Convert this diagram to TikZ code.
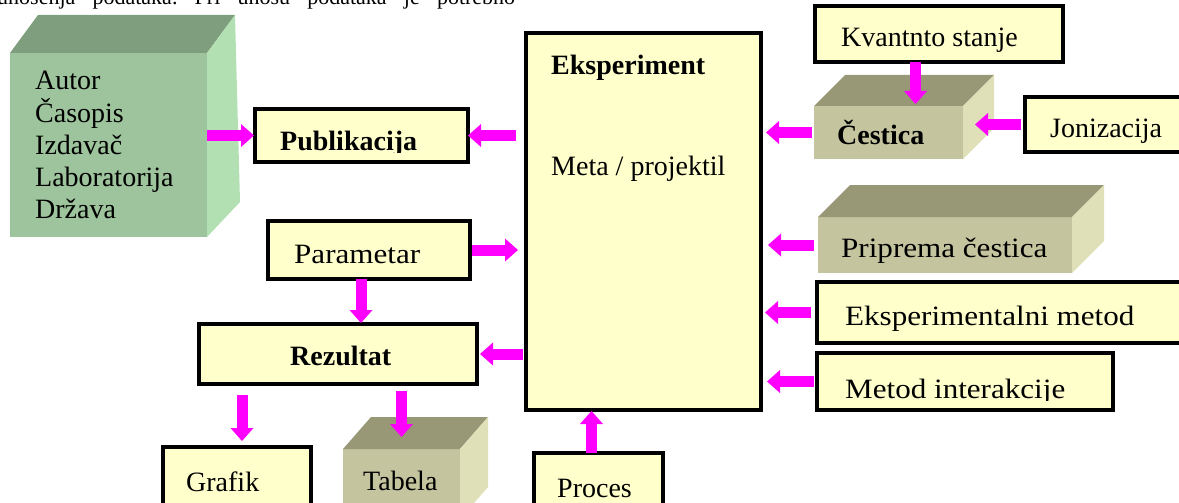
\documentclass[tikz,border=0pt]{standalone}
\usepackage{fontspec}
\setmainfont{Liberation Serif}
\newfontfamily\widefont[FakeStretch=1.11]{Liberation Serif}
\usetikzlibrary{arrows.meta,calc}

\definecolor{boxyellow}{HTML}{FFFFCC}
\definecolor{arrowpink}{HTML}{FF00FF}
\definecolor{greenfront}{HTML}{9DC49C}
\definecolor{greentop}{HTML}{7E9E7D}
\definecolor{greenside}{HTML}{B3E0B3}
\definecolor{olivefront}{HTML}{C4C49F}
\definecolor{olivetop}{HTML}{989877}
\definecolor{oliveside}{HTML}{E0E0B8}

% top and right faces of a block whose front face is node #1
\newcommand\cubefaces[5]{%
  \fill[#4] (#1.north west) -- ++(#2,-#3) -- ($(#1.north east)+(#2,-#3)$) -- (#1.north east) -- cycle;
  \fill[#5] (#1.north east) -- ++(#2,-#3) -- ($(#1.south east)+(#2,-#3)$) -- (#1.south east) -- cycle;}

\begin{document}
\begin{tikzpicture}[x=1pt,y=-1pt,
  ybox/.style={draw=black, line width=3.2pt, fill=boxyellow, inner sep=0pt, outer sep=0pt, anchor=north west},
  face/.style={inner sep=0pt, outer sep=0pt, anchor=north west},
  lbl/.style={anchor=base west, inner sep=0pt, font=\fontsize{28}{32}\selectfont},
  wlbl/.style={lbl, font=\widefont\fontsize{28}{32}\selectfont},
  blbl/.style={lbl, font=\fontsize{28}{32}\selectfont\bfseries},
  barrow/.style={draw=arrowpink, line width=11pt,
    -{Triangle[width=23pt,length=13pt,line width=0pt]}}]
\useasboundingbox (0,0) rectangle (1179,503);

% running text above the figure
\node[anchor=base west, inner sep=0pt, font=\fontsize{22}{26}\selectfont] (body) at (-3,5)
  {\hbox to 518pt{unošenja\hfill podataka.\hfill Pri\hfill unosu\hfill podataka\hfill je\hfill potrebno}};

% ---- 3D blocks ----
\node[face, fill=greenfront, minimum width=197pt, minimum height=184pt] (src) at (10,53) {};
\fill[greentop] (src.north west) -- ++(28,-38) -- ($(src.north east)+(28,-38)$) -- (src.north east) -- cycle;
\fill[greenside] (src.north east) -- ++(28,-38) -- ($(src.south east)+(33,-35)$) -- (src.south east) -- cycle;
\node[lbl] at (35,90) {Autor};
\node[lbl] at (35,122) {Časopis};
\node[lbl] at (35,154) {Izdavač};
\node[lbl] at (35,186) {Laboratorija};
\node[lbl] at (35,218) {Država};

\node[face, fill=olivefront, minimum width=149pt, minimum height=53pt] (ces) at (814,106) {};
\cubefaces{ces}{31}{31}{olivetop}{oliveside}
\node[blbl] at (837,144) {Čestica};

\node[face, fill=olivefront, minimum width=254pt, minimum height=56pt] (prip) at (818,217) {};
\cubefaces{prip}{32}{32}{olivetop}{oliveside}
\node[wlbl] at (841,257) {Priprema čestica};

\node[face, fill=olivefront, minimum width=117pt, minimum height=70pt] (tab) at (343,449) {};
\cubefaces{tab}{28}{32}{olivetop}{oliveside}
\node[lbl] at (363,490) {Tabela};

% ---- framed boxes ----
\node[ybox, minimum width=213pt, minimum height=53pt] (publ) at (255,109) {};
\begin{scope}
  \clip (255,100) rectangle (470,152);
  \node[blbl] at (280,150) {Publikacija};
\end{scope}

\node[ybox, minimum width=235pt, minimum height=377pt] (eksp) at (526,33) {};
\node[blbl] at (551,75) {Eksperiment};
\node[lbl] at (551,175) {Meta / projektil};

\node[ybox, minimum width=248pt, minimum height=56pt] (kvant) at (815,6) {};
\node[lbl] at (841,47) {Kvantnto stanje};

\node[ybox, minimum width=170pt, minimum height=55pt] (jon) at (1025,97) {};
\node[lbl] at (1050,137) {Jonizacija};

\node[ybox, minimum width=370pt, minimum height=61pt] (em) at (817,282) {};
\node[wlbl] at (845,325) {Eksperimentalni metod};

\node[ybox, minimum width=296pt, minimum height=57pt] (mi) at (817,353) {};
\begin{scope}
  \clip (817,340) rectangle (1113,400);
  \node[wlbl] at (845,398) {Metod interakcije};
\end{scope}

\node[ybox, minimum width=202pt, minimum height=58pt] (par) at (268,221) {};
\node[wlbl] at (294,263) {Parametar};

\node[ybox, minimum width=278pt, minimum height=60pt] (rez) at (199,324) {};
\node[blbl] at (290,365) {Rezultat};

\node[ybox, minimum width=148pt, minimum height=70pt] (graf) at (163,447) {};
\node[lbl] at (186,491) {Grafik};

\node[ybox, minimum width=129pt, minimum height=70pt] (proc) at (534,453) {};
\node[lbl] at (557,497) {Proces};

% ---- connectors ----
\draw[barrow, shorten >=1pt] (src.east |- publ.west) -- (publ.west);
\draw[barrow, shorten <=10pt] (eksp.west |- publ.east) -- (publ.east);
\draw[barrow, shorten <=2pt, shorten >=5pt] (ces.west) -- (eksp.east |- ces.west);
\draw[barrow, shorten >=2pt] ([xshift=27pt]ces.north |- kvant.south) -- ([xshift=27pt]ces.north);
\draw[barrow, shorten <=4pt] (jon.west) -- ([xshift=12pt]ces.east |- jon.west);
\draw[barrow, shorten <=4pt, shorten >=7pt] (prip.west) -- (eksp.east |- prip.west);
\draw[barrow, shorten <=6pt, shorten >=4pt] (em.west) -- (eksp.east |- em.west);
\draw[barrow, shorten <=3pt, shorten >=6pt] (mi.west) -- (eksp.east |- mi.west);
\draw[barrow, shorten <=2pt, shorten >=8pt] (par.east) -- (eksp.west |- par.east);
\draw[barrow, shorten >=1pt] ([xshift=-8pt]par.south) -- ([xshift=-8pt]par.south |- rez.north);
\draw[barrow, shorten <=3pt, shorten >=3pt] (eksp.west |- rez.east) -- (rez.east);
\draw[barrow, shorten <=11pt, shorten >=6pt] ([xshift=5pt]graf.north |- rez.south) -- ([xshift=5pt]graf.north);
\draw[barrow, shorten <=7pt, shorten >=12pt] (tab.north |- rez.south) -- (tab.north);
\draw[barrow, shorten >=1pt] ([xshift=-7pt]proc.north) -- ([xshift=-7pt]proc.north |- eksp.south);
\end{tikzpicture}
\end{document}
